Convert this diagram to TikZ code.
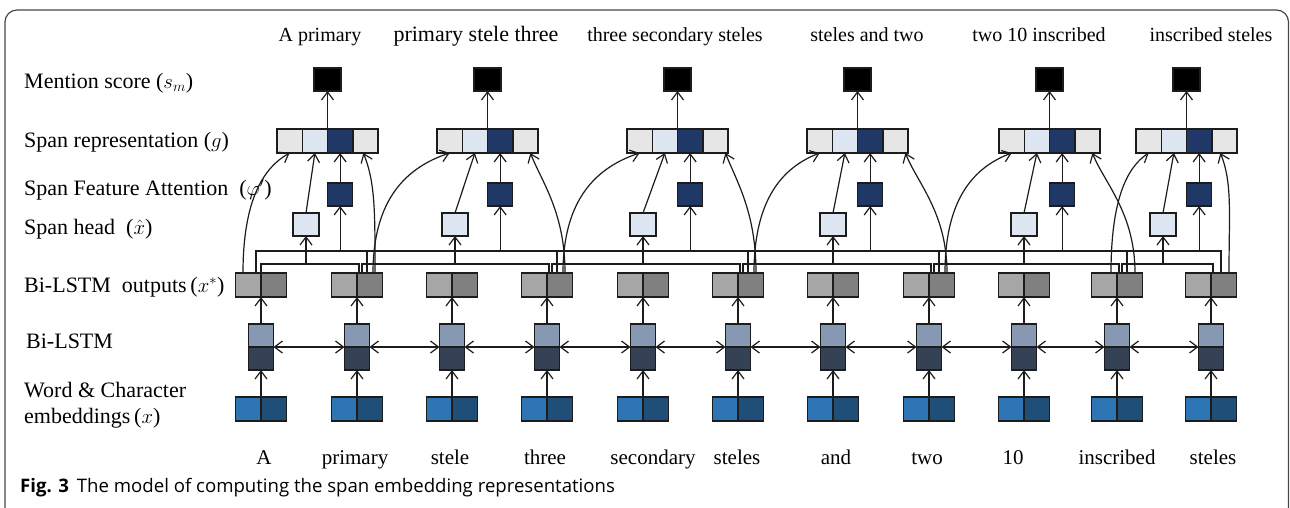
\documentclass[tikz,border=0pt]{standalone}
\usepackage{fontspec}
\setmainfont{Liberation Serif}
\newfontfamily\capfont{Open Sans}
\usetikzlibrary{arrows.meta,calc}
\definecolor{embA}{RGB}{46,117,182}
\definecolor{embB}{RGB}{31,78,121}
\definecolor{lstmT}{RGB}{134,152,178}
\definecolor{lstmB}{RGB}{53,65,84}
\definecolor{outA}{RGB}{166,166,166}
\definecolor{outB}{RGB}{128,128,128}
\definecolor{repGray}{RGB}{231,230,230}
\definecolor{repLight}{RGB}{222,230,241}
\definecolor{navy}{RGB}{31,56,104}
\definecolor{edgec}{RGB}{28,28,28}
\definecolor{framec}{RGB}{70,70,70}
\tikzset{
  cell/.style={draw=edgec, line width=1.5pt, inner sep=0pt, outer sep=0pt,
    minimum width=25.5pt, minimum height=24pt},
  conn/.style={line width=1.2pt, draw=edgec},
  arr/.style={conn, -{Straight Barb[length=8pt,width=12pt,line width=1.2pt]}},
  darr/.style={conn, {Straight Barb[length=8pt,width=12pt,line width=1.2pt]}-{Straight Barb[length=8pt,width=12pt,line width=1.2pt]}},
  lab/.style={inner sep=0pt, anchor=base west, font=\fontsize{22}{26}\selectfont},
  toplab/.style={inner sep=0pt, anchor=base, font=\fontsize{20}{24}\selectfont},
  wordlab/.style={inner sep=0pt, anchor=base, font=\fontsize{21}{25}\selectfont},
}
\begin{document}
\begin{tikzpicture}[x=1pt,y=-1pt]
\useasboundingbox (0,0) rectangle (1290,507);
\draw[line width=1.2pt, framec, rounded corners=12pt] (5,10) rectangle (1288.5,520);

% left labels
\node[lab] (l1) at (24,88) {Mention score ($s_m$)};
\node[lab] (l2) at (24,147) {Span representation ($g$)};
\node[lab] (l3) at (24,195) {Span Feature Attention\ \ ($\varphi'$)};
\node[lab] (l4) at (24,234) {Span head\ \ ($\hat{x}$)};
\node[lab] (l5) at (24,292) {Bi-LSTM\ \ outputs\,($x^{*}$)};
\node[lab] (l6) at (26,348) {Bi-LSTM};
\node[lab] (l7) at (24,397) {Word \& Character};
\node[lab] (l8) at (24,423) {embeddings\,($x$)};

% token columns
\foreach \i/\c in {0/261,1/357,2/452,3/547,4/643,5/738,6/833,7/929,8/1024,9/1117,10/1211}{
  \node[cell, fill=embA] (eL\i) at (\c-12.75,409) {};
  \node[cell, fill=embB] (eR\i) at (\c+12.75,409) {};
  \node[cell, fill=lstmT, minimum width=25pt, minimum height=23pt] (lT\i) at (\c,335.5) {};
  \node[cell, fill=lstmB, minimum width=25pt, minimum height=23pt] (lB\i) at (\c,358.5) {};
  \node[cell, fill=outA] (oL\i) at (\c-12.75,285) {};
  \node[cell, fill=outB] (oR\i) at (\c+12.75,285) {};
  \draw[arr] (eL\i.north east) -- (lB\i.south);
  \draw[arr] (lT\i.north) -- (oL\i.south east);
}
\foreach \i [evaluate=\i as \j using int(\i+1)] in {0,...,9}{
  \draw[darr] (lB\i.north east) -- (lB\j.north west);
}

% word labels
\foreach \i/\x/\t in {0/264/A,1/355/primary,2/450/stele,3/545/three,4/653/secondary,5/737/steles,6/836/and,7/927/two,8/1013/10,9/1117/inscribed,10/1213/steles}{
  \node[wordlab] (w\i) at (\x,464) {\t};
}

% top labels
\foreach \s/\x/\t in {1/320/A primary,3/675/three secondary steles,4/867/steles and two,5/1039/two 10 inscribed,6/1211/inscribed steles}{
  \node[toplab] (t\s) at (\x,41) {\t};
}
\node[toplab, font=\fontsize{22}{26}\selectfont] (t2) at (476,41) {primary stele three};

% spans
\foreach \s/\L/\hx/\a/\b/\lo/\uo/\lc/\cdx/\rc/\ro in {
  1/277/306/0/1/0/-5/-18/25/18/-2,
  2/437/455/1/3/5/10/16/42/18/5,
  3/627/643/3/5/5/10/16/42/18/10,
  4/807/833/5/7/5/10/16/36/18/10,
  5/999/1024/7/9/5/10/16/37/18/5,
  6/1136/1163/9/10/5/10/-6/21/18/-4}{
  \node[cell, fill=repGray, minimum width=25.25pt] (ga\s) at (\L+12.625,141) {};
  \node[cell, fill=repLight, minimum width=25.25pt] (gb\s) at (\L+37.875,141) {};
  \node[cell, fill=navy, minimum width=25.25pt] (gc\s) at (\L+63.125,141) {};
  \node[cell, fill=repGray, minimum width=25.25pt] (gd\s) at (\L+88.375,141) {};
  \node[cell, fill=black, minimum width=27pt, minimum height=23pt] (m\s) at (\L+50.5,79.5) {};
  \node[cell, fill=navy, minimum width=25pt, minimum height=23pt] (at\s) at (\L+63.125,194.5) {};
  \node[cell, fill=repLight, minimum width=26pt, minimum height=23pt] (h\s) at (\hx,224.5) {};
  \draw[arr] (gb\s.north east) -- (m\s.south);
  \draw[arr] (at\s.north) -- (gc\s.south);
  \draw[arr] (h\s.north) -- (gb\s.south);
  % brackets
  \draw[conn] ([xshift=\lo pt]oL\a.north east) -- ++(0,-9) coordinate (lb\s) -| ([xshift=2pt]oL\b.north east);
  \draw[conn] ([xshift=\uo pt]oL\a.north east) -- ++(0,-22) coordinate (ub\s) -| ([xshift=10pt]oL\b.north east);
  \draw[arr] (h\s.south |- lb\s) -- (h\s.south);
  \draw[arr] (at\s.south |- ub\s) -- (at\s.south);
  % curves
  \draw[arr] ([xshift=\lc pt]oL\a.north east) .. controls +(0,-75) and +(-\cdx,14) .. (ga\s.south);
  \draw[arr] ([xshift=\rc pt]oL\b.north east) .. controls +(0,-60) and +(12,30) .. ([xshift=\ro pt]gd\s.south);
}

% caption
\node[inner sep=0pt, anchor=base west, font=\capfont\fontsize{18.6}{22}\selectfont] (cap) at (20,492)
  {\textbf{Fig. 3}\hspace{8pt}The model of computing the span embedding representations};
\end{tikzpicture}
\end{document}
